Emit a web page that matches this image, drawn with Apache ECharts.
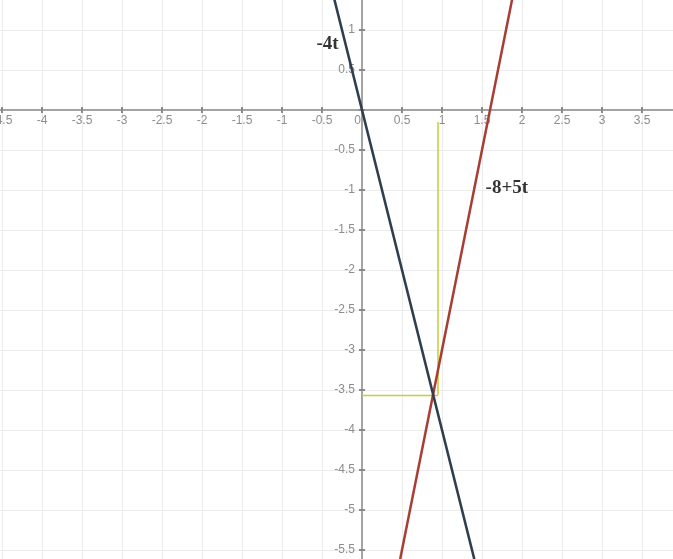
<!DOCTYPE html>
<html>
<head>
<meta charset="utf-8">
<script src="https://cdn.jsdelivr.net/npm/echarts@6/dist/echarts.min.js"></script>
<style>
html,body{margin:0;padding:0;background:#fff;}
#c{width:673px;height:559px;}
</style>
</head>
<body>
<div id="c"></div>
<script>
// Line "-4t" endpoints (t, value)
const darkT = [-0.5, 1.5];
const darkV = [2, -6];
// Line "-8+5t" endpoints (t, value)
const redT = [0.4, 1.9];
const redV = [-6, 1.5];
// Yellow guide lines
const guideVertX = [0.95, 0.95];
const guideVertY = [-0.15, -3.56];
const guideHorzX = [0, 0.95];
const guideHorzY = [-3.57, -3.57];
// Curve labels
const labelTexts = ['-4t', '-8+5t'];
const labelX = [-0.43, 1.81];
const labelY = [0.82, -0.97];
// Axis ranges
const xRange = [-5, 4];
const yRange = [-6, 1.5];
const tickStep = 0.5;

const zip = (a, b) => a.map((v, i) => [v, b[i]]);

const chart = echarts.init(document.getElementById('c'));
const labelStyle = { color: '#8c8c8c', fontSize: 12, fontFamily: 'Liberation Sans, Arial, sans-serif' };
const axisColor = '#a3a3a3';
const fmt = v => String(Math.round(v * 100) / 100);

chart.setOption({
  animation: false,
  backgroundColor: '#fff',
  grid: [
    { left: -38, right: -9, top: -10, bottom: -31, containLabel: false, outerBoundsMode: 'none' },
    { left: -38, right: -9, top: -10, bottom: 449, containLabel: false, outerBoundsMode: 'none' },
    { left: 362, right: -9, top: -10, bottom: -31, containLabel: false, outerBoundsMode: 'none' }
  ],
  xAxis: [
    {
      gridIndex: 0, type: 'value', min: xRange[0], max: xRange[1], interval: tickStep,
      axisLine: { onZero: true, lineStyle: { color: axisColor, width: 2 } },
      axisTick: { show: true, inside: true, length: 3, lineStyle: { color: '#8a8a8a', width: 2 } },
      splitLine: { show: true, lineStyle: { color: '#ebebeb', width: 1 } },
      axisLabel: { show: false }
    },
    {
      gridIndex: 1, type: 'value', min: xRange[0], max: xRange[1], interval: tickStep,
      axisLine: { show: false, onZero: false },
      axisTick: { show: true, length: 3, lineStyle: { color: '#8a8a8a', width: 2 } },
      splitLine: { show: false },
      axisLabel: Object.assign({
        margin: 5,
        formatter: v => v === 0 ? '{z|0}' : fmt(v),
        rich: { z: { color: '#8c8c8c', fontSize: 12, fontFamily: 'Liberation Sans, Arial, sans-serif', padding: [0, 9, 0, 0] } }
      }, labelStyle)
    },
    { gridIndex: 2, type: 'value', min: 0, max: 1, show: false }
  ],
  yAxis: [
    {
      gridIndex: 0, type: 'value', min: yRange[0], max: yRange[1], interval: tickStep,
      axisLine: { onZero: true, lineStyle: { color: axisColor, width: 2 } },
      axisTick: { show: true, inside: true, length: 3, lineStyle: { color: '#8a8a8a', width: 2 } },
      splitLine: { show: true, lineStyle: { color: '#ebebeb', width: 1 } },
      axisLabel: { show: false }
    },
    { gridIndex: 1, type: 'value', min: 0, max: 1, show: false },
    {
      gridIndex: 2, type: 'value', min: yRange[0], max: yRange[1], interval: tickStep,
      axisLine: { show: false, onZero: false },
      axisTick: { show: true, length: 3, lineStyle: { color: '#8a8a8a', width: 2 } },
      splitLine: { show: false },
      axisLabel: Object.assign({ margin: 7, formatter: v => v === 0 ? '' : fmt(v) }, labelStyle)
    }
  ],
  series: [
    { type: 'line', data: zip(guideVertX, guideVertY), symbol: 'none', lineStyle: { color: '#c3cf36', width: 1.5 }, z: 3 },
    { type: 'line', data: zip(guideHorzX, guideHorzY), symbol: 'none', lineStyle: { color: '#c3cf36', width: 1.5 }, z: 3 },
    { type: 'line', data: zip(redT, redV), symbol: 'none', lineStyle: { color: '#a83e33', width: 2.5 }, z: 4 },
    { type: 'line', data: zip(darkT, darkV), symbol: 'none', lineStyle: { color: '#2f3e4c', width: 2.5 }, z: 5 },
    {
      type: 'scatter', symbolSize: 0, z: 6,
      data: labelTexts.map((t, i) => ({ value: [labelX[i], labelY[i]], name: t })),
      label: {
        show: true, position: 'inside', formatter: p => p.name,
        color: '#000', fontWeight: 'bold', fontSize: 19,
        fontFamily: 'Liberation Serif, Times New Roman, serif'
      }
    }
  ]
});
</script>
</body>
</html>
